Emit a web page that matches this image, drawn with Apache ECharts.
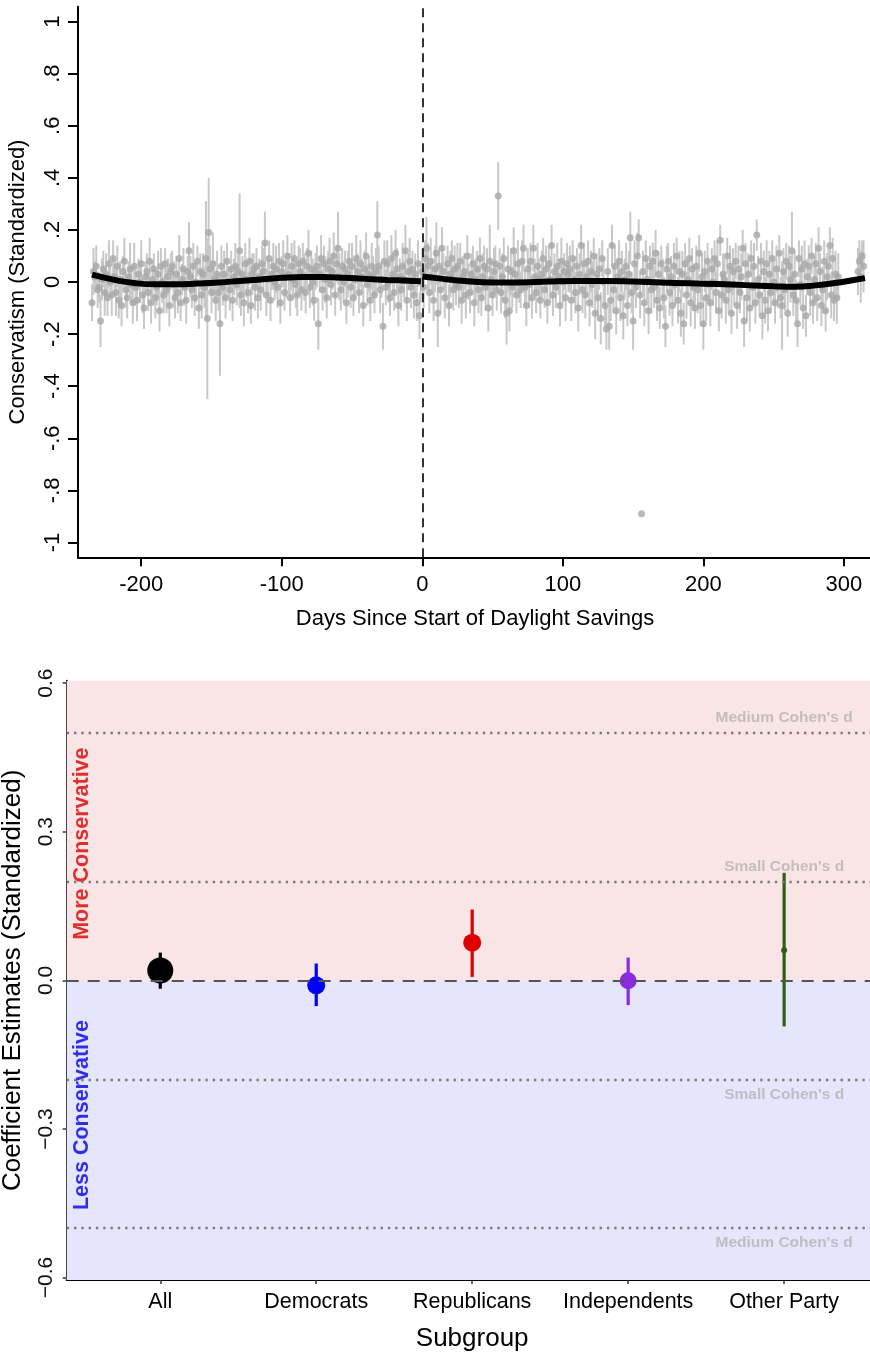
<!DOCTYPE html>
<html>
<head>
<meta charset="utf-8">
<script src="https://cdn.jsdelivr.net/npm/echarts@6/dist/echarts.min.js"></script>
<style>
  html, body { margin: 0; padding: 0; background: #fff; }
  #chart { width: 870px; height: 1355px; }
</style>
</head>
<body>
<div id="chart"></div>
<script>
// ---- top panel: daily means and CI half-widths (in hundredths), first entry = day -235 ----
const firstDay = -235;
const dailyMean = [
  -8,4,2,6,-3,-2,-15,1,5,-4,   3,-6,7,0,-5,9,2,-4,6,-7,     1,-9,4,8,-3,-6,2,5,-1,-8,
  6,-2,-7,3,0,7,-5,-10,2,4,    -4,8,-8,1,5,-6,-2,3,-11,6,   0,-5,7,-3,2,-9,4,6,-1,-6,
  3,-4,9,-8,1,5,-2,-7,4,12,    2,-3,6,-6,0,8,-10,4,-5,3,    -2,9,-14,19,5,-4,7,1,-7,3,
  -4,-16,6,-2,3,-6,8,0,-3,5,   -7,2,6,-1,4,12,-5,3,-8,7,    1,-4,8,-9,3,5,-2,6,-6,2,
  -3,7,4,15,-5,1,9,-7,3,6,     0,5,-2,8,-8,4,7,-4,2,10,     3,-6,6,1,9,-1,-5,7,4,-3,
  8,2,-4,6,11,-2,5,0,-7,4,     6,-16,3,9,-3,7,1,-6,5,8,     -1,4,10,-5,7,13,2,-3,6,0,
  5,-8,3,8,-2,6,-6,1,9,4,      -4,7,2,-9,5,10,-1,3,-7,6,    2,-5,4,18,6,-3,1,-17,8,-2,
  7,0,-6,9,3,-4,11,5,-9,2,     -3,6,1,12,-7,4,8,-2,5,-5,    3,-8,7,-13,0,4,-2,9,13,6,
  -4,8,2,-7,5,11,-12,6,-3,13,  4,-6,1,7,-9,3,9,-3,5,-1,     6,-2,8,-7,2,4,-5,10,0,-4,
  3,7,-8,1,5,-3,9,-6,2,6,      -2,5,-10,8,1,-5,4,7,-3,33,   6,-4,2,9,-7,-12,5,-11,4,-2,
  12,3,-5,7,0,-3,8,13,-2,-9,   5,-1,8,-6,13,2,-4,6,1,-7,    3,9,-3,5,-8,7,1,14,-5,4,
  -2,6,2,-9,8,0,4,-6,7,3,      5,-7,9,1,-4,6,-10,3,14,-3,   7,-5,2,8,-8,4,-1,10,-12,3,
  -6,5,-14,9,0,-9,-18,4,-17,-7, 14,-3,6,-11,2,8,-6,4,-13,1, 6,-9,3,17,-4,-15,7,-2,10,17,
  -5,-89,4,-8,9,1,-11,6,-3,8,  -2,11,-7,3,-10,7,0,-6,-17,5, 8,-4,2,-9,6,-1,10,-7,4,-12,
  3,-16,7,-5,1,9,-8,5,-2,-10,  6,-3,11,-9,2,-16,4,-6,8,-1,  -8,5,0,9,-4,7,-11,16,-5,3,
  1,-7,10,-3,6,-12,4,-1,8,-9,  5,-4,2,13,-15,7,-6,3,-10,9,  -2,6,-8,18,1,-5,8,-13,4,-7,
  7,-11,3,-4,9,0,-8,5,-2,11,   -6,-9,4,-3,8,-12,6,1,12,-5,  3,-7,-16,9,-1,5,-10,7,-13,2,
  6,-4,10,-8,1,7,-6,13,4,-9,   -3,8,-11,2,6,14,-5,9,-7,3,
  -6,2,null,null,null,null,null,null,null,null,
  null,null,null,null,null,4,8,2,10,6
];
const dailyHalfCI = [
  7,9,6,8,7,6,10,8,7,9,   8,7,9,6,8,7,6,9,8,7,    7,8,6,9,7,8,6,10,7,8,
  9,7,8,6,8,9,7,8,6,7,    7,9,8,7,6,8,7,9,8,7,    8,7,6,9,7,8,7,6,9,8,
  7,8,9,7,6,8,7,9,6,11,   8,7,9,7,8,6,8,7,9,8,    8,22,31,21,9,8,12,7,8,9,
  7,20,8,7,9,8,7,6,8,7,   8,7,9,8,7,22,8,7,9,8,   7,8,9,7,8,6,9,7,8,7,
  8,7,9,12,8,9,7,8,6,9,   7,9,8,7,8,6,9,7,8,8,    8,7,9,8,7,9,8,7,9,8,
  7,9,8,7,9,8,7,9,8,7,    8,10,7,9,8,7,9,8,7,9,   8,7,9,8,7,14,9,8,7,8,
  7,8,9,7,8,9,7,8,9,7,    8,9,7,8,7,9,8,7,8,9,    8,7,9,13,8,9,7,9,8,7,
  9,8,7,9,8,7,9,8,8,7,    8,9,7,10,8,7,9,8,7,9,   8,7,9,9,8,9,8,7,12,9,
  8,9,7,8,9,12,13,7,9,8,  7,8,9,7,8,9,7,8,9,8,    9,8,7,9,8,7,9,8,7,8,
  8,7,9,8,7,9,8,7,9,8,    9,8,9,14,7,8,9,7,8,13,  7,8,9,8,7,12,9,8,9,8,
  9,8,7,9,8,7,8,9,7,8,    8,9,7,8,9,7,8,9,8,7,    9,8,7,9,8,7,9,8,8,7,
  8,9,7,8,9,8,7,9,8,7,    9,8,7,9,8,7,9,8,8,9,    8,9,7,8,9,8,9,7,10,8,
  9,8,10,7,9,8,8,9,9,8,   8,9,8,9,7,8,9,8,9,8,    9,8,9,10,8,11,9,8,9,7,
  9,0,8,9,7,8,9,8,9,7,    8,9,8,9,8,7,9,8,8,9,    7,9,8,8,9,8,7,9,8,9,
  9,8,8,9,7,8,9,8,9,8,    8,9,7,8,9,10,8,9,7,8,   9,8,9,7,8,9,8,6,9,8,
  8,9,7,9,8,8,9,8,7,9,    9,8,9,7,10,8,9,8,9,7,   8,9,8,6,9,8,7,9,8,9,
  9,8,9,8,7,9,8,9,8,7,    8,17,9,8,7,9,8,9,15,8,  9,8,9,7,8,9,8,9,8,7,
  8,9,7,8,9,8,9,8,7,8,    9,8,8,9,7,7,9,8,8,9,
  10,9,null,null,null,null,null,null,null,null,
  null,null,null,null,null,9,8,10,6,10
];

// smoothed fit, split at the start of daylight savings
const fitPreDays  = [-235,-220,-205,-190,-175,-160,-145,-130,-115,-100,-85,-70,-55,-40,-25,-10,-1];
const fitPre      = [0.028,0.009,-0.004,-0.009,-0.009,-0.006,-0.002,0.004,0.010,0.016,0.019,0.019,0.016,0.012,0.008,0.005,0.003];
const fitPostDays = [0,15,30,50,70,90,110,130,150,170,190,210,230,250,265,280,295,305,315];
const fitPost     = [0.021,0.012,0.004,-0.002,-0.002,0.002,0.004,0.004,0.002,-0.002,-0.005,-0.008,-0.012,-0.016,-0.018,-0.013,-0.003,0.006,0.015];

const topYTicks  = [-1, -0.8, -0.6, -0.4, -0.2, 0, 0.2, 0.4, 0.6, 0.8, 1];
const topYLabels = ['-1', '-.8', '-.6', '-.4', '-.2', '0', '.2', '.4', '.6', '.8', '1'];
const topXTicks  = [-200, -100, 0, 100, 200, 300];

// ---- bottom panel: coefficient estimates by subgroup ----
const subgroups = ['All', 'Democrats', 'Republicans', 'Independents', 'Other Party'];
const estimates = [0.020, -0.010, 0.076, -0.001, 0.061];
const ciLow     = [-0.017, -0.052, 0.007, -0.050, -0.093];
const ciHigh    = [0.056, 0.034, 0.143, 0.046, 0.217];
const botYTicks  = [-0.6, -0.3, 0, 0.3, 0.6];
const botYLabels = ['\u22120.6', '\u22120.3', '0.0', '0.3', '0.6'];
const cohenValues = [0.5, 0.2, -0.2, -0.5];
const cohenLabels = ["Medium Cohen's d", "Small Cohen's d", "Small Cohen's d", "Medium Cohen's d"];

// styles
const groupColors = ['#000000', '#0000ff', '#dd0000', '#8a2be2', '#2f5f16'];
const groupDot    = [26, 18, 18, 17, 6];
const FONT = '"Liberation Sans", Arial, Helvetica, sans-serif';

const topPoints = [];
const topBars = [];
dailyMean.forEach(function (m, i) {
  if (m === null) return;
  const d = firstDay + i;
  topPoints.push([d, m / 100]);
  topBars.push([d, (m - dailyHalfCI[i]) / 100, (m + dailyHalfCI[i]) / 100]);
});

const botPoints = subgroups.map(function (g, i) { return [i + 1, estimates[i]]; });
const botBars = subgroups.map(function (g, i) { return [i + 1, ciLow[i], ciHigh[i]]; });

function pickLabel(ticks, labels) {
  return function (v) {
    for (let i = 0; i < ticks.length; i++) {
      if (Math.abs(ticks[i] - v) < 1e-6) return labels[i];
    }
    return '';
  };
}

const chart = echarts.init(document.getElementById('chart'));

const option = {
  animation: false,
  backgroundColor: '#fff',
  textStyle: { fontFamily: FONT },
  grid: [
    { left: 78, top: 6.7, width: 794, height: 550.6, outerBoundsMode: 'none', containLabel: false },
    { left: 66.7, top: 680.7, width: 811, height: 599.3, outerBoundsMode: 'none', containLabel: false }
  ],
  xAxis: [
    {
      type: 'value', gridIndex: 0, min: -245, max: 320,
      axisLine: { onZero: false, lineStyle: { color: '#000', width: 2 } },
      axisTick: { customValues: topXTicks, length: 9, lineStyle: { color: '#000', width: 2 } },
      axisLabel: { customValues: topXTicks, fontSize: 22, color: '#000', margin: 17, fontFamily: FONT },
      splitLine: { show: false },
      name: 'Days Since Start of Daylight Savings',
      nameLocation: 'middle', nameGap: 51,
      nameTextStyle: { fontSize: 22, color: '#000', fontFamily: FONT }
    },
    {
      type: 'value', gridIndex: 1, min: 0.4, max: 5.6,
      axisLine: { onZero: false, lineStyle: { color: '#000', width: 2 } },
      axisTick: { customValues: [1, 2, 3, 4, 5], length: 4, lineStyle: { color: '#333', width: 1.5 } },
      axisLabel: {
        customValues: [1, 2, 3, 4, 5], fontSize: 21.5, color: '#000', margin: 11, fontFamily: FONT,
        formatter: function (v) { return subgroups[Math.round(v) - 1]; }
      },
      splitLine: { show: false },
      name: 'Subgroup', nameLocation: 'middle', nameGap: 46,
      nameTextStyle: { fontSize: 26, color: '#000', fontFamily: FONT }
    }
  ],
  yAxis: [
    {
      type: 'value', gridIndex: 0, min: -1.057, max: 1.057,
      axisLine: { onZero: false, lineStyle: { color: '#000', width: 2 } },
      axisTick: { customValues: topYTicks, length: 10, lineStyle: { color: '#000', width: 2 } },
      axisLabel: {
        customValues: topYTicks, rotate: 90, fontSize: 22, color: '#000', margin: 14, fontFamily: FONT,
        formatter: pickLabel(topYTicks, topYLabels)
      },
      splitLine: { show: false },
      name: 'Conservatism (Standardized)', nameLocation: 'middle', nameGap: 49, nameRotate: 90,
      nameTextStyle: { fontSize: 22, color: '#000', fontFamily: FONT }
    },
    {
      type: 'value', gridIndex: 1, min: -0.605, max: 0.605,
      axisLine: { onZero: false, lineStyle: { color: '#000', width: 2 } },
      axisTick: { customValues: botYTicks, length: 4, lineStyle: { color: '#333', width: 1.5 } },
      axisLabel: {
        customValues: botYTicks, rotate: 90, fontSize: 21, color: '#111', margin: 10, fontFamily: FONT,
        formatter: pickLabel(botYTicks, botYLabels)
      },
      splitLine: { show: false },
      name: 'Coefficient Estimates (Standardized)', nameLocation: 'middle', nameGap: 41, nameRotate: 90,
      nameTextStyle: { fontSize: 26, color: '#000', fontFamily: FONT }
    }
  ],
  series: [
    // --- top panel ---
    {
      type: 'custom', xAxisIndex: 0, yAxisIndex: 0, z: 1,
      data: topBars, encode: { x: 0, y: [1, 2] },
      renderItem: function (params, api) {
        const lo = api.coord([api.value(0), api.value(1)]);
        const hi = api.coord([api.value(0), api.value(2)]);
        return { type: 'line', shape: { x1: lo[0], y1: lo[1], x2: hi[0], y2: hi[1] },
                 style: { stroke: '#c8c8c8', lineWidth: 2 } };
      }
    },
    {
      type: 'scatter', xAxisIndex: 0, yAxisIndex: 0, z: 2,
      data: topPoints, symbolSize: 7,
      itemStyle: { color: '#a8a8a8' },
      markLine: {
        silent: true, symbol: ['none', 'none'], label: { show: false },
        lineStyle: { color: '#000', type: [9, 6], width: 1.6 },
        data: [{ xAxis: 0 }]
      }
    },
    {
      type: 'line', xAxisIndex: 0, yAxisIndex: 0, z: 3,
      data: fitPreDays.map(function (d, i) { return [d, fitPre[i]]; }),
      smooth: true, showSymbol: false,
      lineStyle: { color: '#000', width: 6 }
    },
    {
      type: 'line', xAxisIndex: 0, yAxisIndex: 0, z: 3,
      data: fitPostDays.map(function (d, i) { return [d, fitPost[i]]; }),
      smooth: true, showSymbol: false,
      lineStyle: { color: '#000', width: 6 }
    },
    // --- bottom panel ---
    {
      type: 'scatter', xAxisIndex: 1, yAxisIndex: 1, z: 0, silent: true, data: [],
      markArea: {
        silent: true,
        data: [
          [{ yAxis: 0, itemStyle: { color: '#f9e5e5' } }, { yAxis: 0.605 }],
          [{ yAxis: -0.605, itemStyle: { color: '#e5e5fb' } }, { yAxis: 0 }]
        ]
      }
    },
    {
      type: 'scatter', xAxisIndex: 1, yAxisIndex: 1, z: 1, silent: true, data: [],
      markLine: {
        silent: true, symbol: ['none', 'none'], label: { show: false },
        data: cohenValues.map(function (v) {
          return { yAxis: v, lineStyle: { color: '#7c7c7c', type: [2.4, 4.9], width: 2.4 } };
        }).concat([{ yAxis: 0, lineStyle: { color: '#555', type: [12, 9], width: 2.2 } }])
      }
    },
    {
      type: 'custom', xAxisIndex: 1, yAxisIndex: 1, z: 2,
      data: botBars, encode: { x: 0, y: [1, 2] },
      renderItem: function (params, api) {
        const lo = api.coord([api.value(0), api.value(1)]);
        const hi = api.coord([api.value(0), api.value(2)]);
        return { type: 'line', shape: { x1: lo[0], y1: lo[1], x2: hi[0], y2: hi[1] },
                 style: { stroke: groupColors[params.dataIndex], lineWidth: 3.2 } };
      }
    },
    {
      type: 'scatter', xAxisIndex: 1, yAxisIndex: 1, z: 3,
      data: botPoints,
      symbolSize: function (v, p) { return groupDot[p.dataIndex]; },
      itemStyle: { color: function (p) { return groupColors[p.dataIndex]; }, opacity: 1 }
    },
    {
      type: 'scatter', xAxisIndex: 1, yAxisIndex: 1, z: 4, silent: true, symbolSize: 0,
      data: cohenValues.map(function (v, i) {
        return { value: [5, v], name: cohenLabels[i],
                 label: { position: v > 0 ? 'top' : 'bottom' } };
      }),
      label: {
        show: true, formatter: '{b}', distance: 7,
        fontSize: 15.5, fontWeight: 'bold', color: '#b4b4b4', fontFamily: FONT
      }
    },
    {
      type: 'scatter', xAxisIndex: 1, yAxisIndex: 1, z: 4, silent: true, symbolSize: 0,
      data: [
        { value: [0.5, 0.276], name: 'More Conservative', label: { color: '#d80000' } },
        { value: [0.5, -0.272], name: 'Less Conservative', label: { color: '#0000e6' } }
      ],
      label: {
        show: true, position: 'inside', rotate: 90, formatter: '{b}',
        fontSize: 21.5, fontWeight: 'bold', fontFamily: FONT
      }
    }
  ]
};

chart.setOption(option);
window.onresize = function () { chart.resize(); };
</script>
</body>
</html>
